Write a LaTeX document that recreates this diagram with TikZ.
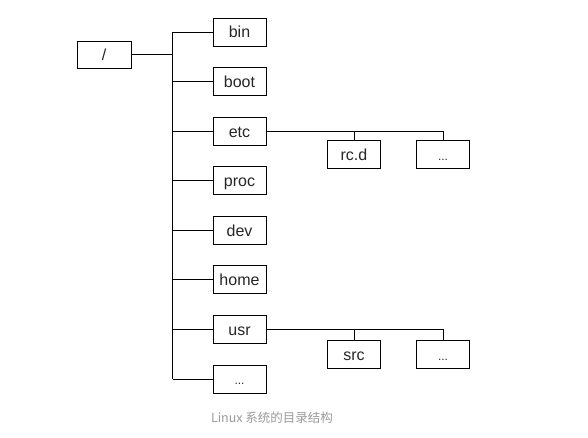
\documentclass[tikz,border=0pt]{standalone}
\usepackage{fontspec}
\setmainfont{Liberation Sans}
\newfontfamily\cjk{Noto Sans CJK SC}
\definecolor{captiongray}{HTML}{9A9A9A}
\begin{document}
\begin{tikzpicture}[x=1pt,y=-1pt,
  box/.style={draw, line width=0.9pt, minimum width=53pt, minimum height=28pt,
    inner sep=0pt, text height=13pt, text depth=1pt,
    font=\fontsize{16}{18}\selectfont, text=black!85},
  link/.style={line width=0.9pt}]
\useasboundingbox (0,0) rectangle (588,438);
\node[box, minimum width=54pt, minimum height=27pt] (root) at (104,54.5) {/};
\def\ys{49.57}
\node[box] (bin)  at (239.5,32) {bin};
\node[box] (boot) at (239.5,{32+1*\ys}) {boot};
\node[box] (etc)  at (239.5,{32+2*\ys}) {etc};
\node[box] (proc) at (239.5,{32+3*\ys}) {proc};
\node[box] (dev)  at (239.5,{32+4*\ys}) {dev};
\node[box] (home) at (239.5,{32+5*\ys}) {home};
\node[box] (usr)  at (239.5,{32+6*\ys}) {usr};
\node[box] (more) at (239.5,{32+7*\ys}) {\fontsize{12}{14}\selectfont ...};
\node[box] (rcd)  at (354,154.5) {rc.d};
\node[box] (etcmore) at (443,154.5) {\fontsize{12}{14}\selectfont ...};
\node[box] (src)  at (354,354.5) {src};
\node[box] (usrmore) at (443,354.5) {\fontsize{12}{14}\selectfont ...};
% trunk
\coordinate (ttop) at (172.5,32);
\coordinate (tbot) at (172.5,{32+7*\ys});
\coordinate (tmid) at (172.5,54.5);
\draw[link] (root.east) -- (tmid);
\draw[link] (ttop) -- (tbot);
\foreach \n in {bin,boot,etc,proc,dev,home,usr,more}
  \draw[link] (\n.west) -- (\n.west -| ttop);
% etc branch
\draw[link] (etc.east) -- (etc.east -| etcmore.north) -- (etcmore.north);
\draw[link] (rcd.north) -- (rcd.north |- etc.east);
% usr branch
\draw[link] (usr.east) -- (usr.east -| usrmore.north) -- (usrmore.north);
\draw[link] (src.north) -- (src.north |- usr.east);
\node[text=captiongray, font=\cjk\fontsize{12.5}{15}\selectfont] (cap) at (272,418) {Linux 系统的目录结构};
\end{tikzpicture}
\end{document}
